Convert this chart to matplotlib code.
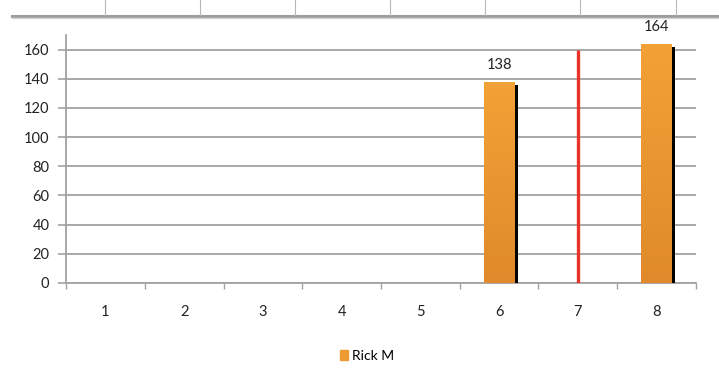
import matplotlib.pyplot as plt
import matplotlib.patheffects as pe
from matplotlib.lines import Line2D
from matplotlib.patches import Patch
from matplotlib.colors import LinearSegmentedColormap
import numpy as np

plt.rcParams['font.family'] = ['Lato', 'DejaVu Sans']

# chart data
categories = ['1', '2', '3', '4', '5', '6', '7', '8']
rick_m = [0, 0, 0, 0, 0, 138, 0, 164]
marker_category = '7'
marker_value = 160
y_ticks = [0, 20, 40, 60, 80, 100, 120, 140, 160]

fig = plt.figure(figsize=(7.19, 3.79), dpi=100)
ax = fig.add_axes([0.0918, 0.2533, 0.8762, 0.6544])

# spreadsheet cell borders peeking in at the top
fig.add_artist(Line2D([12 / 719, 1.0], [1 - 16 / 379] * 2, color='#9c9c9c', lw=2.2))
fig.add_artist(Line2D([12 / 719, 1.0], [1 - 18 / 379] * 2, color='#d6d6d6', lw=1.0))
for px in [105, 200, 295, 390, 485, 580, 676]:
    fig.add_artist(Line2D([px / 719] * 2, [1.0, 1 - 15 / 379], color='#b8b8b8', lw=0.8))

x = np.arange(len(categories))

for yt in y_ticks:
    ax.axhline(yt, color='#a3a3a3', lw=1.3, zorder=1)

bars = ax.bar(x, rick_m, width=0.39, color='#ee9a32', zorder=3,
              path_effects=[pe.SimplePatchShadow(offset=(2.5, -2.2), shadow_rgbFace='black', alpha=1.0),
                            pe.Normal()])

# soft vertical shading on each bar
grad = np.linspace(0, 1, 256).reshape(-1, 1)
cmap = LinearSegmentedColormap.from_list('bar', ['#e08a2b', '#f2a236'])
for b, v in zip(bars, rick_m):
    if v <= 0:
        continue
    im = ax.imshow(grad, cmap=cmap, aspect='auto', origin='lower', zorder=4,
                   extent=[b.get_x(), b.get_x() + b.get_width(), 0, v])
    im.set_clip_path(b)
    ax.annotate(str(v), (b.get_x() + b.get_width() / 2, v), xytext=(0, 7),
                textcoords='offset points', ha='center', va='bottom',
                fontsize=10.5, color='#222222')

mi = categories.index(marker_category)
ax.plot([mi, mi], [0, marker_value], color='#e8332a', lw=2.4, zorder=5, solid_capstyle='butt')

ax.set_xlim(-0.5, len(categories) - 0.5)
ax.set_ylim(0, 170)

ax.set_xticks(x)
ax.set_xticklabels(categories, fontsize=10.5, color='#222222')
ax.set_xticks(np.arange(-0.5, len(categories)), minor=True)
ax.tick_params(axis='x', which='major', length=0, pad=16)
ax.tick_params(axis='x', which='minor', length=4, width=1, color='#a3a3a3')
ax.set_yticks(y_ticks)
ax.set_yticklabels([str(t) for t in y_ticks], fontsize=10.5, color='#222222')
ax.tick_params(axis='y', length=6, width=1.2, color='#a3a3a3', pad=6)

for s in ['top', 'right']:
    ax.spines[s].set_visible(False)
for s in ['left', 'bottom']:
    ax.spines[s].set_color('#a3a3a3')
    ax.spines[s].set_linewidth(1.3)

ax.legend(handles=[Patch(color='#ee9a32', label='Rick M')], loc='upper center',
          bbox_to_anchor=(0.478, -0.22), frameon=False, fontsize=10,
          handlelength=0.55, handleheight=0.7, handletextpad=0.3)

fig.savefig('out.png', dpi=100)
